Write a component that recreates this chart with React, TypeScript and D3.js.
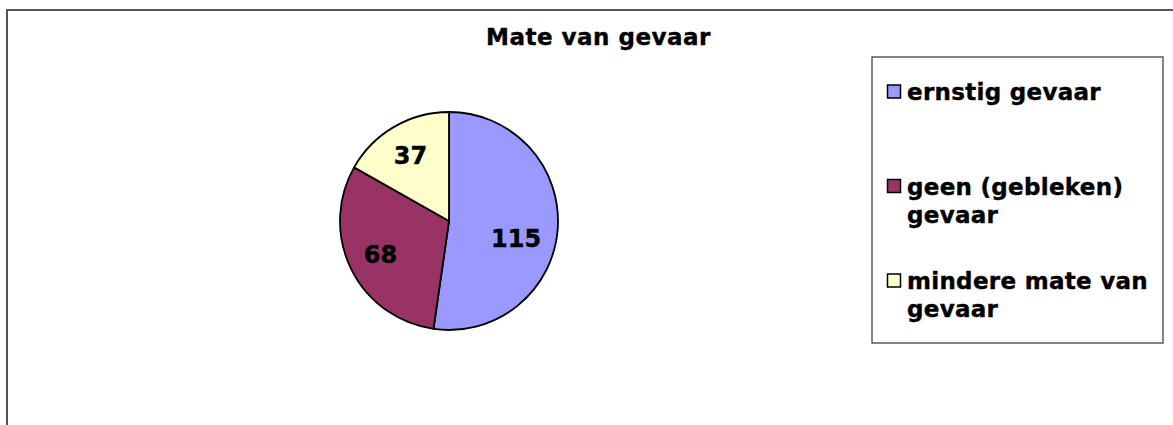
import React from "react";
import * as d3 from "d3";

const title = "Mate van gevaar";
const categories = ["ernstig gevaar", "geen (gebleken) gevaar", "mindere mate van gevaar"];
const values = [115, 68, 37];
const legendLines = [["ernstig gevaar"], ["geen (gebleken)", "gevaar"], ["mindere mate van", "gevaar"]];
const colors = ["#9999FF", "#993366", "#FFFFCC"];

const W = 1173;
const H = 425;
const FONT = "Verdana, 'DejaVu Sans', sans-serif";

export default function App() {
  const cx = 449;
  const cy = 221;
  const R = 109;
  const pie = d3.pie<number>().sort(null).value((d) => d)(values);
  const arc = d3.arc<d3.PieArcDatum<number>>().innerRadius(0).outerRadius(R);
  const labelArc = d3.arc<d3.PieArcDatum<number>>().innerRadius(R * 0.7).outerRadius(R * 0.7);
  const labelNudge = [[-9, 12], [0, 0], [0, 0]];

  const legX = 872;
  const legY = 57;
  const legW = 291;
  const legH = 286;
  const firstBase = 100;
  const itemStep = 94.5;
  const lineH = 28;
  const textStroke = { stroke: "#000", strokeWidth: 0.4 };

  return (
    <svg width={W} height={H} style={{ position: "absolute", left: 0, top: 0 }}>
      <rect x={0} y={0} width={W} height={H} fill="#fff" />
      <rect x={7} y={10} width={W + 20} height={H + 20} fill="none" stroke="#555" strokeWidth={2} />
      <text x={598.5} y={45} textAnchor="middle" fontFamily={FONT} fontWeight="bold" fontSize={23} letterSpacing={0.5} {...textStroke}>
        {title}
      </text>
      <g transform={`translate(${cx},${cy})`}>
        {pie.map((p, i) => (
          <path key={categories[i]} d={arc(p) || ""} fill={colors[i]} stroke="#000" strokeWidth={1.8} strokeLinejoin="round" />
        ))}
        {pie.map((p, i) => {
          const [x, y] = labelArc.centroid(p);
          return (
            <text
              key={"l" + i}
              x={x + labelNudge[i][0]}
              y={y + labelNudge[i][1]}
              dy="0.36em"
              textAnchor="middle"
              fontFamily={FONT}
              fontWeight="bold"
              fontSize={24}
              {...textStroke}
            >
              {values[i]}
            </text>
          );
        })}
      </g>
      <rect x={legX} y={legY} width={legW} height={legH} fill="#fff" stroke="#333" strokeWidth={1.2} />
      {legendLines.map((lines, i) => {
        const base = firstBase + i * itemStep;
        return (
          <g key={"leg" + i}>
            <rect x={887.5} y={base - 15} width={13} height={13} fill={colors[i]} stroke="#000" strokeWidth={1.5} />
            {lines.map((ln, j) => (
              <text key={j} x={907} y={base + j * lineH} fontFamily={FONT} fontWeight="bold" fontSize={23} letterSpacing={0.3} {...textStroke}>
                {ln}
              </text>
            ))}
          </g>
        );
      })}
    </svg>
  );
}
